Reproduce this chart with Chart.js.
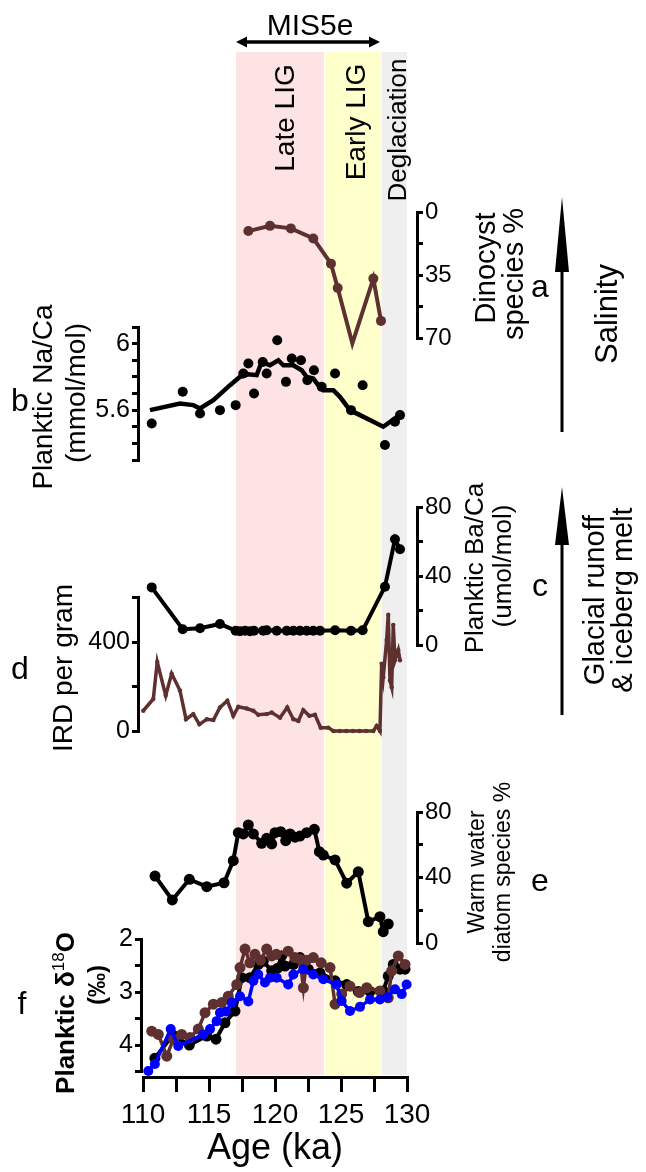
<!DOCTYPE html>
<html>
<head>
<meta charset="utf-8">
<script src="https://cdn.jsdelivr.net/npm/chart.js@4.4.1/dist/chart.umd.min.js"></script>
<style>
  body { margin: 0; background: #fff; }
  #wrap { position: relative; width: 646px; height: 1172px; overflow: hidden;
          font-family: 'Liberation Sans', Arial, sans-serif; color: #000; }
  canvas { position: absolute; left: 0; top: 0; }
  svg { position: absolute; left: 0; top: 0; }
  .t { position: absolute; white-space: nowrap; line-height: 1; }
  .r { transform: translate(-50%, -50%) rotate(-90deg); }
  .c { transform: translate(-50%, -50%); }
  .b { font-weight: bold; }
</style>
</head>
<body>
<div id="wrap">
  <canvas id="bg" width="646" height="1172"></canvas>
  <canvas id="pa" width="646" height="1172"></canvas>
  <canvas id="pb" width="646" height="1172"></canvas>
  <canvas id="pc" width="646" height="1172"></canvas>
  <canvas id="pd" width="646" height="1172"></canvas>
  <canvas id="pe" width="646" height="1172"></canvas>
  <canvas id="pf" width="646" height="1172"></canvas>

  <svg width="646" height="1172">
    <line x1="246" y1="42" x2="370" y2="42" stroke="#000" stroke-width="3.5"/>
    <polygon points="236,42 247,36.5 247,47.5" fill="#000"/>
    <polygon points="380,42 369,36.5 369,47.5" fill="#000"/>
    <line x1="562" y1="432" x2="562" y2="260" stroke="#000" stroke-width="3"/>
    <polygon points="562,197 555,272 569,272" fill="#000"/>
    <line x1="562" y1="715" x2="562" y2="530" stroke="#000" stroke-width="3"/>
    <polygon points="562,487 555,545 569,545" fill="#000"/>
  </svg>

  <div class="t c" style="left:310px;top:25px;font-size:30px">MIS5e</div>
  <div class="t r" style="left:285px;top:118px;font-size:28px">Late LIG</div>
  <div class="t r" style="left:356px;top:122px;font-size:28px">Early LIG</div>
  <div class="t r" style="left:397px;top:130px;font-size:26px">Deglaciation</div>

  <div class="t c" style="left:540px;top:286px;font-size:32px">a</div>
  <div class="t r" style="left:606px;top:314px;font-size:31px">Salinity</div>
  <div class="t r" style="left:485px;top:268px;font-size:29px">Dinocyst</div>
  <div class="t r" style="left:513px;top:274px;font-size:29px">species %</div>

  <div class="t c" style="left:20px;top:400px;font-size:32px">b</div>
  <div class="t r" style="left:43px;top:397px;font-size:28px">Planktic Na/Ca</div>
  <div class="t r" style="left:76px;top:393px;font-size:28px">(mmol/mol)</div>

  <div class="t r" style="left:474px;top:568px;font-size:26px">Planktic Ba/Ca</div>
  <div class="t r" style="left:502px;top:566px;font-size:26px">(umol/mol)</div>
  <div class="t c" style="left:540px;top:585px;font-size:32px">c</div>
  <div class="t r" style="left:594px;top:600px;font-size:29px">Glacial runoff</div>
  <div class="t r" style="left:622px;top:600px;font-size:29px">&amp; iceberg melt</div>

  <div class="t c" style="left:20px;top:668px;font-size:32px">d</div>
  <div class="t r" style="left:63px;top:668px;font-size:28px">IRD per gram</div>

  <div class="t r" style="left:476px;top:872px;font-size:23px">Warm water</div>
  <div class="t r" style="left:502px;top:872px;font-size:23px">diatom species %</div>
  <div class="t c" style="left:540px;top:880px;font-size:32px">e</div>

  <div class="t c" style="left:22px;top:1003px;font-size:32px">f</div>
  <div class="t r b" style="left:64px;top:1013px;font-size:26px">Planktic δ<sup style="font-size:17px;font-weight:normal">18</sup>O</div>
  <div class="t r b" style="left:97px;top:985px;font-size:24px">(‰)</div>
</div>

<script>
// ---- data ----
const bandStart = [117.05, 123.7, 128.0];
const bandEnd = [123.7, 128.0, 130];
const bandColor = ['#fde3e4', '#ffffcc', '#efefef'];

const ageTicks = [110, 115, 120, 125, 130];

// a: dinocyst species %
const dinoAge = [117.98, 119.62, 121.2, 122.9, 124.24, 124.75, 125.86, 127.45, 128.03];
const dinoPct = [10.6, 7.7, 9.1, 14.7, 28.7, 42.2, 73, 37, 60.5];

// b: planktic Na/Ca (points + smoothed)
const nacaAge = [110.66, 113.01, 114.32, 115.83, 117.02, 117.6, 117.98, 118.41, 119.07, 119.37, 120.17,
  120.83, 121.27, 121.97, 122.45, 122.95, 123.54, 124.55, 125.76, 126.64, 128.33, 129.09, 129.47];
const nacaVal = [5.52, 5.71, 5.58, 5.60, 5.63, 5.82, 5.88, 5.70, 5.89, 5.82, 6.02,
  5.77, 5.91, 5.90, 5.78, 5.84, 5.74, 5.82, 5.60, 5.75, 5.39, 5.53, 5.57];
const nacaSmoothAge = [110.53, 112.8, 113.81, 114.32, 115.33, 116.59, 117.35, 117.98, 118.61, 118.99, 119.62,
  120.25, 120.63, 121.39, 122.02, 122.4, 122.9, 123.28, 123.66, 124.42, 124.92, 125.68, 126.44, 127.45,
  128.2, 129.09, 129.6];
const nacaSmoothVal = [5.60, 5.64, 5.63, 5.61, 5.66, 5.75, 5.80, 5.815, 5.81, 5.89, 5.87,
  5.90, 5.87, 5.87, 5.84, 5.80, 5.79, 5.75, 5.72, 5.72, 5.68, 5.60, 5.57, 5.53,
  5.50, 5.55, 5.58];

// c: planktic Ba/Ca
const bacaAge = [110.66, 113.01, 114.32, 115.83, 117.02, 117.35, 117.73, 118.1, 118.41, 119.11, 119.37,
  120.13, 120.89, 121.39, 121.89, 122.4, 122.9, 123.41, 124.55, 125.76, 126.64, 128.33, 129.09, 129.47];
const bacaVal = [33.4, 9.1, 9.7, 12.2, 8.3, 8.0, 8.3, 8.0, 8.3, 8.3, 8.5,
  8.3, 8.3, 8.3, 8.3, 8.3, 8.3, 8.3, 8.5, 8.3, 8.5, 33.8, 61.3, 55.5];

// d: IRD per gram
const irdAge = [110.02, 110.78, 111.08, 111.72, 112.17, 112.8, 113.26, 113.81, 114.27, 114.83, 115.33,
  115.83, 116.39, 116.84, 117.22, 117.86, 118.36, 118.73, 119.37, 119.75, 120.38, 120.93, 121.39,
  121.77, 122.14, 122.6, 123.03, 123.46, 124.04, 124.42, 124.9, 125.4, 125.9, 126.4, 126.9, 127.45,
  127.7, 127.95, 128.08, 128.2, 128.46, 128.58, 128.71, 128.84, 128.96, 129.09, 129.34, 129.47];
const irdVal = [91, 144, 310, 159, 258, 182, 53, 76, 30, 53, 49,
  106, 136, 68, 109, 101, 91, 73, 76, 83, 60, 106, 53,
  45, 94, 68, 73, 15, 15, 0, 0, 0, 0, 0, 0, 0,
  23, 0, 303, 242, 409, 523, 227, 197, 477, 318, 364, 318];

// e: warm water diatom species %
const diatomAge = [110.91, 112.22, 113.51, 114.83, 116.14, 116.84, 117.22, 117.6, 117.98, 118.36, 118.99,
  119.37, 119.75, 120.0, 120.43, 120.81, 121.14, 121.52, 121.89, 122.4, 122.98, 123.36, 123.66,
  124.55, 125.43, 126.31, 127.07, 127.95, 128.2, 128.58];
const diatomVal = [40.9, 26.3, 38.9, 34.4, 36.8, 50.3, 67.4, 66.6, 72.1, 66.6, 60.9,
  63.9, 60.5, 67.4, 68, 62.5, 66.6, 64.6, 65.3, 67.4, 69.4, 55.8, 53.7,
  50.7, 36.5, 43.5, 13, 16.1, 6.9, 11.6];

// f: planktic d18O, three records
const d18oBlueAge = [110.4, 110.9, 112.1, 112.67, 114.57, 115.08, 115.58, 115.83, 116.29, 116.72, 117.35,
  117.98, 118.36, 118.73, 119.24, 119.62, 120.13, 121.0, 121.39, 122.14, 122.9, 123.66, 124.67,
  125.05, 125.68, 126.44, 127.2, 127.95, 128.5, 129.09, 129.6, 129.97];
const d18oBlueVal = [4.49, 4.36, 3.70, 4.02, 3.80, 3.70, 3.55, 3.39, 3.37, 3.20, 3.08,
  3.18, 2.79, 2.67, 2.82, 2.73, 2.73, 2.86, 2.67, 2.57, 2.67, 2.76, 2.86,
  3.17, 3.36, 3.28, 3.14, 3.14, 3.10, 2.95, 3.04, 2.86];
const d18oBrownAge = [110.66, 111.16, 111.8, 112.3, 112.93, 113.56, 114.19, 114.7, 115.33, 115.96, 116.46,
  117.1, 117.35, 117.73, 118.1, 118.48, 118.9, 119.37, 119.75, 120.1, 121.0, 121.5, 121.9, 122.15,
  122.4, 122.9, 123.5, 124.17, 124.55, 125.05, 125.68, 126.4, 126.95, 127.95, 128.58, 128.84,
  129.34, 129.85];
const d18oBrownVal = [3.74, 3.80, 4.21, 3.89, 3.80, 3.86, 3.70, 3.39, 3.23, 3.20, 3.08,
  2.86, 2.54, 2.19, 2.45, 2.29, 2.40, 2.19, 2.32, 2.29, 2.23, 2.35, 2.38, 2.92,
  2.40, 2.35, 2.45, 2.54, 3.23, 3.04, 2.89, 3.01, 2.92, 2.98, 3.11, 2.60,
  2.32, 2.48];
const d18oBlackAge = [110.9, 112.25, 113.51, 114.83, 115.53, 116.21, 116.97, 117.48, 118.1, 118.73, 119.11,
  119.75, 120.2, 120.5, 120.76, 121.39, 121.89, 122.52, 123.41, 124.55, 125.43, 126.31, 127.2,
  128.2, 128.58, 128.96, 129.47, 129.85];
const d18oBlackVal = [4.25, 3.81, 4.0, 3.83, 3.89, 3.58, 3.36, 2.73, 2.73, 2.48, 2.42,
  2.60, 2.55, 2.32, 2.51, 2.48, 2.35, 2.57, 2.64, 2.79, 2.86, 2.99, 2.99,
  2.98, 2.70, 2.48, 2.57, 2.57];

// ---- layout helpers ----
const W = 646, H = 1172;
const FONT = "'Liberation Sans', Arial, sans-serif";
const X0 = 143, X1 = 407;            // pixel of 110 ka and 130 ka
const PX_PER_KA = (X1 - X0) / 20;
const AXIS_W = 60;
const BROWN = '#5e3030';

Chart.defaults.font.family = FONT;
Chart.defaults.color = '#000';

const pts = (xs, ys) => xs.map((x, i) => ({ x: x, y: ys[i] }));

function series(xs, ys, color, width, radius, showLine = true) {
  return {
    data: pts(xs, ys),
    borderColor: color,
    backgroundColor: color,
    borderWidth: width,
    pointRadius: radius,
    pointBorderWidth: 0,
    pointBackgroundColor: color,
    showLine: showLine,
    tension: 0,
    clip: false
  };
}

function panel(id, box, y, datasets) {
  const xMin = 110 - (X0 - box.left) / PX_PER_KA;
  const xMax = 130 + (box.right - X1) / PX_PER_KA;
  const left = box.side === 'left';
  new Chart(document.getElementById(id), {
    type: 'line',
    data: { datasets },
    options: {
      responsive: false,
      animation: false,
      events: [],
      layout: {
        padding: {
          top: box.top,
          bottom: H - box.bottom,
          left: left ? box.left - AXIS_W : box.left,
          right: left ? W - box.right : W - box.right - AXIS_W
        }
      },
      plugins: { legend: { display: false }, tooltip: { enabled: false } },
      scales: {
        x: { type: 'linear', min: xMin, max: xMax, display: false },
        y: {
          type: 'linear',
          position: box.side,
          min: y.min, max: y.max,
          reverse: !!y.reverse,
          afterFit: s => { s.width = AXIS_W; },
          border: { display: true, color: '#000', width: 3 },
          grid: { drawOnChartArea: false, drawTicks: true, tickLength: 6, color: '#000', lineWidth: 3 },
          ticks: {
            stepSize: y.step,
            autoSkip: false,
            padding: 2,
            color: '#000',
            font: { size: y.size, family: FONT },
            callback: v => {
              const hit = y.labels.find(l => Math.abs(l - v) < 1e-6);
              return hit === undefined ? '' : String(hit);
            }
          }
        }
      }
    }
  });
}

// ---- background bands + age axis ----
const bandPlugin = {
  id: 'bands',
  beforeDraw(chart) {
    const { ctx, chartArea, scales } = chart;
    ctx.save();
    ctx.fillStyle = '#fff';
    ctx.fillRect(0, 0, chart.width, chart.height);
    bandStart.forEach((s, i) => {
      const a = scales.x.getPixelForValue(s) + (i ? 1 : 0);
      const b = scales.x.getPixelForValue(bandEnd[i]);
      ctx.fillStyle = bandColor[i];
      ctx.fillRect(a, chartArea.top, b - a, chartArea.bottom - 2 - chartArea.top);
    });
    ctx.restore();
  }
};

new Chart(document.getElementById('bg'), {
  type: 'line',
  data: { datasets: [{ data: [] }] },
  plugins: [bandPlugin],
  options: {
    responsive: false,
    animation: false,
    events: [],
    layout: { padding: { top: 52, left: X0, right: W - X1, bottom: 0 } },
    plugins: { legend: { display: false }, tooltip: { enabled: false } },
    scales: {
      y: { display: false, min: 0, max: 1 },
      x: {
        type: 'linear', min: 110, max: 130,
        afterFit: s => { s.height = 95; },
        border: { display: true, color: '#000', width: 3 },
        grid: { drawOnChartArea: false, drawTicks: true, tickLength: 15, color: '#000', lineWidth: 3 },
        ticks: {
          stepSize: 2.5, autoSkip: false, maxRotation: 0, padding: 6, color: '#000',
          font: { size: 28, family: FONT },
          callback: v => ageTicks.includes(v) ? String(v) : ''
        },
        title: { display: true, text: 'Age (ka)', color: '#000', font: { size: 36, family: FONT }, padding: { top: 0, bottom: 1 } }
      }
    }
  }
});

// ---- panels ----
panel('pa', { top: 212, bottom: 338, left: X0, right: 417, side: 'right' },
  { min: 0, max: 70, reverse: true, step: 17.5, labels: [0, 35, 70], size: 24 },
  [series(dinoAge, dinoPct, BROWN, 4, 5)]);

panel('pb', { top: 327, bottom: 460, left: 138, right: X1, side: 'left' },
  { min: 5.3, max: 6.1, step: 0.1, labels: [5.6, 6], size: 25 },
  [series(nacaSmoothAge, nacaSmoothVal, '#000', 4.5, 0),
   series(nacaAge, nacaVal, '#000', 0, 5, false)]);

panel('pc', { top: 507, bottom: 645, left: X0, right: 417, side: 'right' },
  { min: 0, max: 80, step: 20, labels: [0, 40, 80], size: 24 },
  [series(bacaAge, bacaVal, '#000', 4, 5)]);

panel('pd', { top: 597.5, bottom: 731, left: 138, right: X1, side: 'left' },
  { min: 0, max: 600, step: 200, labels: [0, 400], size: 25 },
  [series(irdAge, irdVal, BROWN, 3.5, 2.2)]);

panel('pe', { top: 812, bottom: 943, left: X0, right: 417, side: 'right' },
  { min: 0, max: 80, step: 20, labels: [0, 40, 80], size: 24 },
  [series(diatomAge, diatomVal, '#000', 4, 5.5)]);

panel('pf', { top: 939, bottom: 1071.5, left: 141, right: X1, side: 'left' },
  { min: 2, max: 4.5, reverse: true, step: 0.5, labels: [2, 3, 4], size: 25 },
  [series(d18oBlueAge, d18oBlueVal, '#0000ff', 3.5, 5),
   series(d18oBrownAge, d18oBrownVal, BROWN, 3.5, 5.5),
   series(d18oBlackAge, d18oBlackVal, '#000', 4, 5.5)]);
</script>
</body>
</html>
